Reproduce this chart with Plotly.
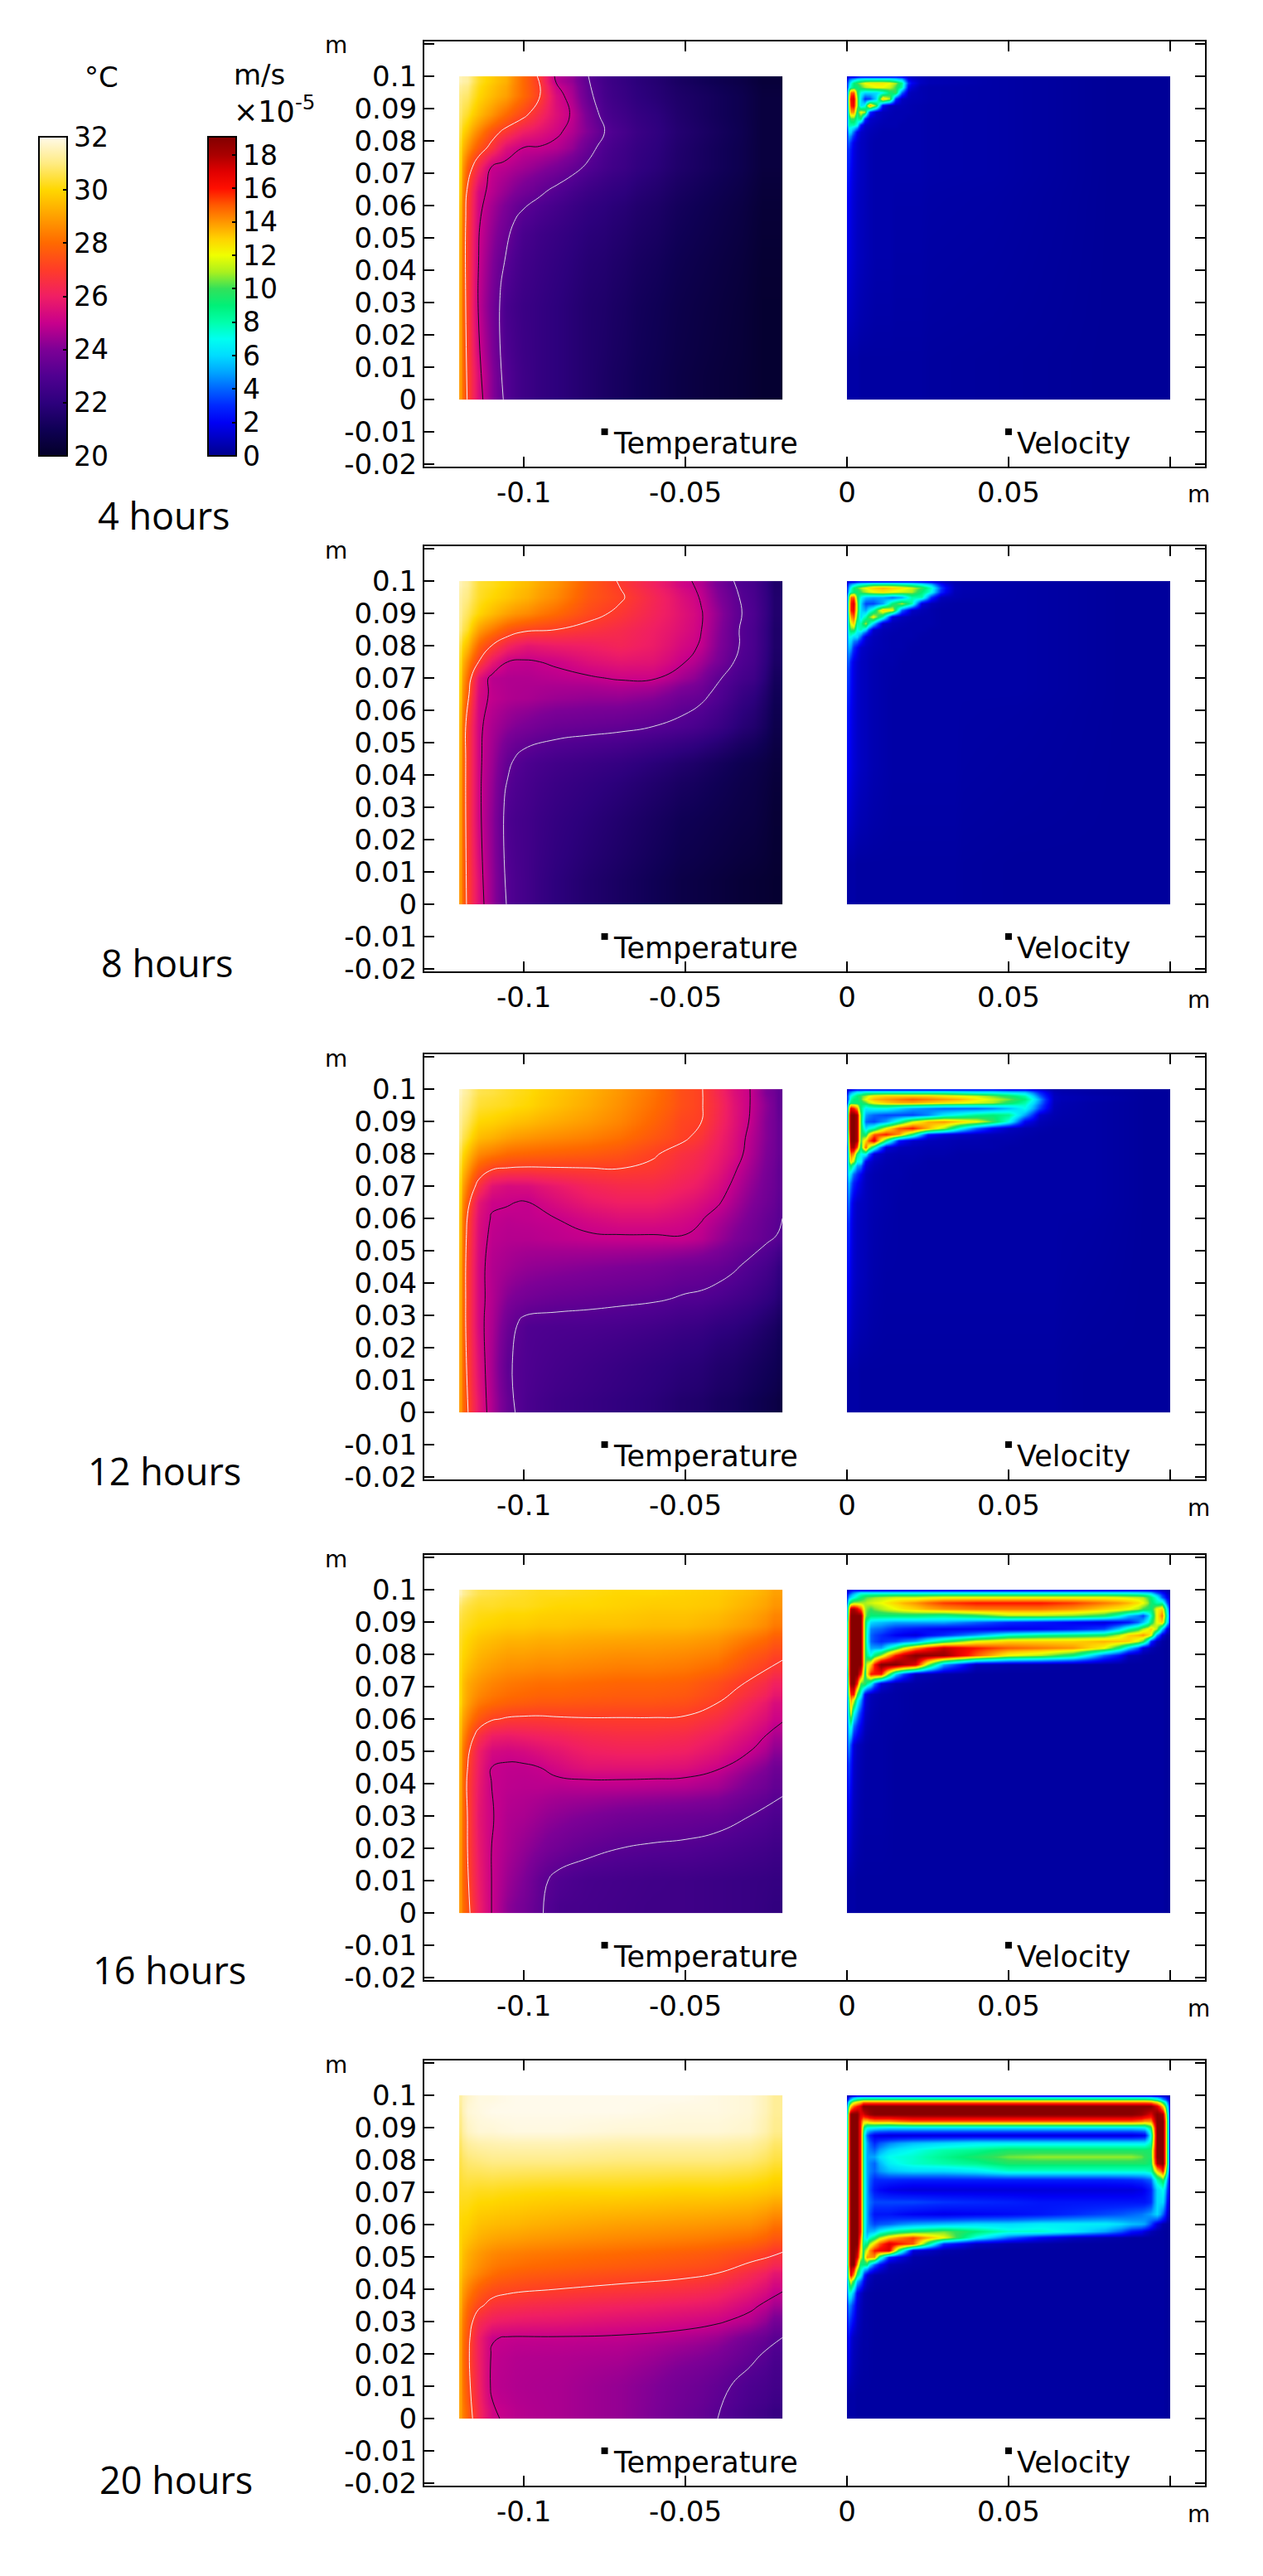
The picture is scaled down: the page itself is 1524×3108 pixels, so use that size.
import plotly.graph_objects as go

# the page keeps its default 8px body margin, so the figure is 8px smaller and all pixels are shifted
PAGE_MARGIN = 8
WIDTH = 1524 - PAGE_MARGIN
HEIGHT = 3108 - PAGE_MARGIN

# temperature panels, degC, rows run bottom to top
t4_x = [-.12, -.118, -.114, -.11, -.106, -.1, -.095, -.09, -.085, -.08, -.075, -.07, -.06, -.045, -.02]
t4_y = [0, .03, .055, .065, .072, .078, .083, .088, .094, .1]
t4_z = [
    [28.9, 27.2, 25.4, 24.2, 23.1, 22.5, 22.2, 22, 21.8, 21.6, 21.4, 21.2, 20.9, 20.5, 20.2],
    [29, 27, 24.9, 23.9, 22.8, 22.4, 22.2, 22, 21.8, 21.6, 21.5, 21.3, 21, 20.6, 20.2],
    [29.3, 27, 25.1, 24.3, 23.6, 22.8, 22.5, 22.3, 22.1, 21.9, 21.8, 21.6, 21.3, 20.8, 20.3],
    [29.8, 27.2, 25.3, 24.8, 24.3, 23.8, 23.4, 23.05, 22.7, 22.4, 22.2, 22, 21.6, 21, 20.4],
    [30, 27.8, 26.3, 25, 24.8, 24.5, 24.2, 23.9, 23.5, 23.05, 22.7, 22.4, 21.9, 21.2, 20.5],
    [30.2, 28.8, 27.6, 26.7, 25.5, 25, 24.95, 24.75, 24.3, 23.5, 22.9, 22.5, 22, 21.2, 20.5],
    [30.5, 29.6, 28.5, 27.5, 26.8, 26, 25.6, 25.2, 24.7, 24, 23.2, 22.7, 22.1, 21.3, 20.5],
    [30.8, 30.3, 29.5, 28.8, 28, 27.2, 26.3, 25.5, 24.9, 23.8, 22.9, 22.5, 22, 21.2, 20.5],
    [31, 30.8, 30, 29.5, 29, 28, 27, 25.4, 24.6, 23.4, 22.7, 22.3, 21.8, 21.2, 20.5],
    [31.5, 31.3, 30.3, 29.8, 29.3, 28, 26.8, 24.8, 24.3, 23.2, 22.6, 22.2, 21.7, 21, 20.4],
]

t8_x = [-.12, -.118, -.114, -.11, -.105, -.1, -.09, -.08, -.07, -.06, -.05, -.045, -.04, -.035, -.03, -.02]
t8_y = [0, .03, .045, .055, .065, .07, .075, .08, .085, .09, .095, .1]
t8_z = [
    [28.8, 27.1, 25.5, 24.3, 23.1, 22.6, 22, 21.6, 21.3, 21, 20.7, 20.6, 20.5, 20.4, 20.3, 20.2],
    [29, 27, 25.2, 24.2, 22.9, 22.6, 22.2, 21.9, 21.6, 21.3, 21, 20.9, 20.8, 20.7, 20.6, 20.3],
    [29.2, 27, 25.2, 24.4, 23.4, 22.9, 22.6, 22.4, 22.2, 21.9, 21.6, 21.4, 21.2, 21, 20.8, 20.5],
    [29.4, 27, 25.2, 24.6, 24.2, 23.9, 23.6, 23.5, 23.4, 23.2, 22.95, 22.7, 22.4, 22, 21.6, 20.8],
    [29.8, 27.6, 25.3, 24.9, 24.7, 24.6, 24.4, 24.3, 24.3, 24.1, 23.6, 23.4, 23, 22.5, 22, 21],
    [30, 28, 25.6, 24.8, 24.7, 24.7, 24.8, 24.9, 25.1, 25.1, 24.5, 24, 23.3, 22.9, 22.5, 21.2],
    [30.2, 28.6, 27, 25.8, 25, 24.9, 25.1, 25.5, 25.7, 25.6, 25, 24.5, 23.9, 23.2, 22.7, 21.4],
    [30.5, 29.5, 27.9, 27, 26.2, 25.7, 25.9, 26, 26.2, 25.9, 25.3, 24.9, 24.1, 23.4, 22.8, 21.5],
    [31, 30.3, 29, 28.3, 27.6, 27.2, 27, 26.7, 26.4, 26, 25.5, 25, 24.2, 23.4, 22.8, 21.5],
    [31.2, 30.7, 30, 29.5, 29, 28.6, 28, 27.3, 26.8, 26.2, 25.6, 25.05, 24.3, 23.5, 22.9, 21.6],
    [31.3, 31, 30.3, 30, 29.7, 29.3, 28.6, 27.6, 27.1, 26.3, 25.5, 24.9, 24.1, 23.4, 22.8, 21.6],
    [31.5, 31.2, 30.4, 30.2, 29.9, 29.5, 28.8, 27.7, 26.9, 26.1, 25.2, 24.7, 23.9, 23.2, 22.7, 21.5],
]

t12_x = [-.12, -.118, -.114, -.11, -.105, -.1, -.09, -.08, -.07, -.06, -.05, -.045, -.04, -.035, -.03, -.025, -.02]
t12_y = [0, .015, .028, .035, .045, .055, .06, .065, .07, .075, .08, .085, .09, .095, .1]
t12_z = [
    [28.9, 27.3, 25.7, 24.6, 23.5, 22.85, 22.5, 22.3, 22.1, 21.9, 21.6, 21.5, 21.3, 21.2, 21, 20.8, 20.6],
    [29, 27.1, 25.5, 24.5, 23.3, 22.95, 22.7, 22.5, 22.3, 22.1, 21.9, 21.8, 21.6, 21.5, 21.3, 21.1, 20.9],
    [29.1, 27, 25.3, 24.6, 23.6, 23, 22.9, 22.85, 22.75, 22.6, 22.4, 22.3, 22.1, 22, 21.8, 21.5, 21.2],
    [29.2, 27, 25.3, 24.7, 24.1, 23.8, 23.6, 23.5, 23.4, 23.3, 23.1, 23.05, 22.9, 22.7, 22.5, 22.2, 21.8],
    [29.3, 27, 25.3, 24.7, 24.5, 24.3, 24.2, 24.1, 24, 23.9, 23.7, 23.6, 23.5, 23.3, 23, 22.7, 22.2],
    [29.5, 27.1, 25.4, 24.85, 24.75, 24.75, 24.85, 24.95, 25, 25, 25, 24.8, 24.4, 24, 23.7, 23.4, 23.1],
    [29.6, 27.2, 25.5, 24.95, 24.85, 24.9, 25, 25.3, 25.5, 25.5, 25.3, 25.05, 24.7, 24.3, 23.9, 23.5, 23.2],
    [29.8, 27.6, 25.7, 25.1, 25.05, 24.95, 25.4, 25.8, 26, 26, 25.7, 25.4, 25.1, 24.6, 24.1, 23.7, 23.3],
    [30, 28.2, 26.6, 25.6, 25.35, 25.4, 25.8, 26.2, 26.4, 26.4, 26.1, 25.8, 25.4, 24.85, 24.3, 23.8, 23.4],
    [30.3, 28.9, 27.6, 27, 26.85, 26.8, 26.85, 26.9, 26.95, 26.8, 26.4, 26.1, 25.7, 25.1, 24.5, 23.9, 23.4],
    [30.6, 29.6, 28.6, 28.3, 28, 27.9, 27.8, 27.7, 27.5, 27.1, 26.6, 26.3, 25.9, 25.4, 24.7, 24, 23.5],
    [31, 30.3, 29.5, 29.3, 29, 28.8, 28.6, 28.4, 28.1, 27.6, 27.1, 26.7, 26.1, 25.5, 24.8, 24.1, 23.5],
    [31.2, 30.7, 30, 29.9, 29.7, 29.5, 29.2, 28.9, 28.5, 27.9, 27.2, 27, 26.3, 25.6, 24.95, 24.1, 23.5],
    [31.4, 31, 30.4, 30.3, 30.2, 30, 29.6, 29.2, 28.7, 28.1, 27.4, 27.05, 26.4, 25.6, 25, 24.2, 23.4],
    [31.6, 31.2, 30.6, 30.5, 30.3, 30.1, 29.7, 29.3, 28.8, 28.2, 27.4, 27.05, 26.3, 25.5, 25, 24, 23.4],
]

t16_x = [-.12, -.118, -.114, -.11, -.105, -.1, -.095, -.09, -.08, -.07, -.06, -.05, -.04, -.03, -.02]
t16_y = [0, .01, .02, .03, .04, .045, .05, .055, .06, .065, .07, .08, .09, .095, .1]
t16_z = [
    [28.8, 27.5, 26, 25, 24.2, 23.8, 23.3, 22.8, 22.7, 22.6, 22.5, 22.5, 22.4, 22.3, 22.1],
    [28.8, 27.3, 25.9, 25, 24.4, 24, 23.4, 23, 22.75, 22.65, 22.55, 22.5, 22.4, 22.3, 22.2],
    [28.9, 27.2, 25.8, 25, 24.6, 24.3, 24, 23.7, 23.4, 23.2, 23.1, 23.05, 22.9, 22.7, 22.5],
    [29, 27.2, 25.7, 25.05, 24.7, 24.6, 24.4, 24.2, 24, 23.8, 23.7, 23.6, 23.5, 23.2, 22.9],
    [29.1, 27.1, 25.8, 25, 24.85, 24.8, 24.8, 24.75, 24.8, 24.8, 24.75, 24.7, 24.5, 23.9, 23.4],
    [29.2, 27.2, 25.9, 25, 24.9, 24.9, 25, 25.3, 25.6, 25.6, 25.6, 25.5, 25.1, 24.4, 23.7],
    [29.3, 27.4, 26, 25.3, 25.2, 25.3, 25.5, 25.7, 26, 26.1, 26.1, 26, 25.6, 25, 24.2],
    [29.5, 27.9, 26.6, 26, 25.9, 26, 26.1, 26.2, 26.4, 26.5, 26.5, 26.4, 26, 25.4, 24.6],
    [29.7, 28.5, 27.6, 27.1, 26.9, 26.85, 26.85, 26.9, 26.95, 26.95, 26.95, 26.9, 26.5, 25.8, 25.1],
    [30, 29, 28.3, 28, 27.8, 27.7, 27.6, 27.6, 27.55, 27.5, 27.5, 27.4, 27, 26.2, 25.4],
    [30, 29.2, 28.8, 28.5, 28.3, 28.2, 28.1, 28.1, 28, 27.9, 27.9, 27.8, 27.4, 26.8, 26.1],
    [30.2, 29.8, 29.4, 29.2, 29, 29, 28.9, 28.9, 28.8, 28.7, 28.7, 28.6, 28.4, 27.7, 27.2],
    [30.4, 30.2, 30, 29.9, 29.8, 29.8, 29.7, 29.7, 29.6, 29.6, 29.5, 29.5, 29.3, 28.9, 28.3],
    [30.8, 30.5, 30.3, 30.3, 30.2, 30.2, 30.1, 30, 30, 29.9, 29.8, 29.8, 29.7, 29.3, 28.8],
    [31.5, 31, 30.6, 30.5, 30.4, 30.3, 30.2, 30.2, 30.1, 30, 30, 29.9, 29.8, 29.5, 29],
]

t20_x = [-.12, -.118, -.114, -.11, -.105, -.09, -.07, -.05, -.04, -.03, -.02]
t20_y = [0, .01, .02, .025, .03, .035, .04, .045, .05, .06, .07, .08, .09, .095, .1]
t20_z = [
    [29, 27.8, 26.3, 25.2, 24.8, 24.6, 24.3, 23.7, 23.2, 22.7, 22.3],
    [29, 27.5, 26.1, 24.9, 24.7, 24.6, 24.3, 23.8, 23.4, 22.9, 22.6],
    [29, 27.4, 26, 24.95, 24.75, 24.7, 24.6, 24.2, 23.9, 23.4, 22.85],
    [29, 27.5, 26, 25.05, 24.95, 24.95, 24.9, 24.7, 24.4, 23.8, 23.2],
    [29.1, 27.7, 26.4, 26, 25.8, 25.7, 25.5, 25.3, 25.1, 24.7, 23.8],
    [29.3, 28, 27.2, 26.7, 26.5, 26.3, 26.1, 25.9, 25.7, 25.2, 24.5],
    [29.5, 28.5, 27.8, 27.4, 27.2, 27, 26.8, 26.6, 26.3, 25.8, 25.1],
    [29.7, 29, 28.5, 28.1, 27.8, 27.6, 27.4, 27.2, 27, 26.4, 25.7],
    [29.9, 29.3, 28.9, 28.6, 28.4, 28.2, 28, 27.8, 27.6, 27.3, 26.8],
    [30, 29.9, 29.6, 29.5, 29.4, 29.2, 29, 28.9, 28.8, 28.7, 28.2],
    [30.3, 30.3, 30.2, 30.2, 30.1, 30, 30, 29.9, 29.9, 29.8, 29.6],
    [30.6, 30.9, 31, 31.1, 31.1, 31.1, 31, 31, 31, 30.9, 30.5],
    [31, 31.6, 31.8, 31.8, 31.9, 31.9, 31.8, 31.8, 31.8, 31.7, 31.1],
    [31.2, 31.8, 31.9, 32, 32, 32, 32, 31.9, 31.9, 31.8, 31.2],
    [31.3, 31.7, 31.9, 31.9, 32, 32, 32, 32, 31.9, 31.8, 31.2],
]

# velocity panels, 1e-5 m/s, rows run bottom to top
v4_x = [0, .0005, .0012, .002, .003, .004, .0055, .007, .009, .011, .013, .015, .017, .019, .021, .03, .1]
v4_y = [0, .05, .075, .08, .083, .085, .087, .089, .091, .093, .095, .097, .098, .099, .1]
v4_z = [
    [.5, .5, .5, .5, .5, .4, .4, .4, .4, .4, .4, .4, .4, .4, .4, .3, .2],
    [1.5, 1.6, 1.4, 1.2, 1, .9, .8, .7, .6, .6, .6, .5, .5, .5, .5, .4, .2],
    [2.5, 2.6, 2, 1.5, 1.2, 1, .9, .7, .6, .6, .6, .6, .6, .6, .6, .5, .2],
    [3, 4, 3, 1.8, 1.3, 1, .9, .7, .6, .6, .6, .6, .6, .6, .6, .5, .2],
    [3, 6, 6, 4, 2, 1.2, 1, .8, .7, .6, .6, .6, .6, .6, .6, .5, .2],
    [4, 8, 8, 8, 7, 2.5, 1.2, 1, .8, .7, .7, .7, .6, .6, .6, .5, .2],
    [4, 8, 10, 10, 8, 9, 3, 1.2, 1, .8, .7, .7, .7, .6, .6, .5, .2],
    [4, 10, 14, 14, 9, 12, 11, 3, 1.2, .9, .8, .7, .7, .7, .6, .5, .2],
    [4, 11, 16, 16.5, 11, 6, 7, 14, 10, 2, 1, .8, .8, .7, .6, .5, .2],
    [4, 12, 16.5, 17, 11, 6, 3, 3.5, 6, 13, 11, 3, 1, .8, .7, .5, .2],
    [4, 10, 15, 15, 10, 7, 6, 6, 6, 7, 9, 10, 4, 1, .7, .5, .2],
    [3, 6, 8, 9, 9, 10, 11, 11.5, 12, 12, 11.5, 10, 8, 2, .7, .5, .2],
    [3, 5, 7, 9, 10, 11, 12, 12.5, 12.5, 12.5, 12, 11, 8.5, 3, 1, .5, .2],
    [2, 4, 5, 6, 7, 7.5, 8, 8, 8, 8, 8, 7, 6, 2, 1, .5, .2],
    [1, 2, 2, 2, 2.5, 3, 3, 3, 3, 3, 3, 3, 2.5, 1.2, .7, .4, .2],
]

v8_x = [0, .0005, .0012, .002, .003, .004, .0055, .008, .011, .014, .017, .02, .023, .026, .029, .032, .04, .1]
v8_y = [0, .05, .07, .075, .08, .083, .085, .087, .089, .091, .093, .095, .097, .098, .099, .1]
v8_z = [
    [.5, .5, .5, .5, .4, .4, .4, .4, .4, .4, .4, .4, .4, .4, .4, .4, .3, .3],
    [2, 2, 1.7, 1.4, 1.2, 1, .9, .7, .6, .5, .5, .5, .5, .5, .5, .5, .4, .3],
    [3, 3, 2.2, 1.6, 1.2, 1, .9, .7, .6, .5, .5, .5, .5, .5, .5, .5, .5, .3],
    [3.5, 4, 2.6, 1.7, 1.3, 1, .9, .7, .6, .6, .5, .5, .5, .5, .5, .5, .5, .3],
    [4, 5.5, 5, 3, 2, 1.2, 1, .8, .7, .6, .6, .5, .5, .5, .5, .5, .5, .3],
    [4, 7, 7, 6, 6, 4, 1.5, .9, .7, .6, .6, .6, .5, .5, .5, .5, .5, .3],
    [4, 8, 10, 10, 7, 8, 6, 1.2, .8, .7, .6, .6, .6, .5, .5, .5, .5, .3],
    [4, 9, 12, 13, 8, 8, 11, 6, 1.2, .8, .7, .6, .6, .6, .5, .5, .5, .3],
    [4, 10, 14, 15, 10, 6, 8, 12, 8, 1.5, .9, .7, .6, .6, .5, .5, .5, .3],
    [4, 11, 16, 16.5, 11, 6, 5, 8, 13, 12, 4, 1.1, .8, .6, .5, .5, .5, .3],
    [4, 11, 16, 17, 11, 6, 3.5, 3.5, 5, 9, 11, 8, 1.5, .8, .6, .5, .5, .3],
    [4, 10, 15, 15, 10, 7, 5.5, 5, 5, 4, 5, 8, 8, 3, .9, .7, .5, .3],
    [3, 6, 8, 9, 9, 10, 11, 12, 12.5, 12, 11.5, 11, 9, 7, 3, .8, .5, .3],
    [3, 5, 7, 9, 10, 11, 12, 13, 13.5, 13, 12.5, 11.5, 10, 7.5, 3.5, .9, .5, .3],
    [2, 4, 5, 6, 7, 7.5, 8, 9, 9, 9, 8.5, 8, 7, 5.5, 2.5, .8, .5, .3],
    [1, 2, 2, 2, 2.5, 3, 3, 3, 3, 3, 3, 3, 2.5, 2, 1.2, .6, .5, .3],
]

v12_x = [0, .0005, .0012, .002, .003, .004, .0055, .008, .012, .016, .02, .025, .03, .035, .04, .045, .05, .055, .06, .063, .07, .1]
v12_y = [0, .05, .067, .075, .078, .08, .082, .084, .086, .088, .09, .092, .094, .096, .097, .098, .099, .1]
v12_z = [
    [.5, .5, .5, .5, .5, .4, .4, .4, .4, .4, .4, .4, .4, .4, .4, .4, .4, .4, .4, .4, .3, .3],
    [2, 2.2, 1.6, 1.2, 1, .9, .8, .6, .5, .5, .5, .5, .5, .5, .5, .5, .5, .5, .5, .5, .4, .3],
    [3, 4.5, 2.5, 1.5, 1.1, 1, .9, .7, .6, .5, .5, .5, .5, .5, .5, .5, .5, .5, .5, .5, .5, .3],
    [4, 7, 6, 4, 3, 2, 1, .7, .6, .6, .5, .5, .5, .5, .5, .5, .5, .5, .5, .5, .5, .3],
    [4, 9, 13, 11, 7, 7, 2, 1, .7, .6, .6, .5, .5, .5, .5, .5, .5, .5, .5, .5, .5, .3],
    [4, 10, 15, 14, 9, 7, 7, 1.5, .8, .7, .7, .6, .6, .5, .5, .5, .5, .5, .5, .5, .5, .3],
    [4, 11, 18, 18, 15, 9, 15, 8, 1.5, .9, .8, .7, .7, .6, .6, .6, .5, .5, .5, .5, .5, .3],
    [5, 12, 19, 19, 18, 10, 13, 17, 9, 2.5, 1.2, .9, .8, .7, .7, .6, .6, .5, .5, .5, .5, .3],
    [5, 13, 19, 19, 18, 10, 9, 15, 16, 14, 9, 2.5, 1.5, 1.1, .9, .8, .7, .6, .5, .5, .5, .3],
    [5, 14, 19, 19, 18, 10, 6, 8, 12, 15, 16, 13.5, 11, 7, 4, 2, 1, .7, .6, .5, .5, .3],
    [5, 14, 19, 19, 18, 10, 4, 3.5, 5, 8, 11.5, 13.5, 14, 13, 12, 10, 7, 2, .8, .6, .5, .3],
    [5, 14, 19, 19, 18, 10, 5, 4, 3.5, 3.5, 3.5, 4.5, 6.5, 7.5, 8.5, 9, 8.5, 5, 1.2, .7, .5, .3],
    [5, 12, 17, 16, 14, 9, 6.5, 7, 7, 6, 5, 4.5, 4, 4, 4, 4.5, 5.5, 7, 3.5, .8, .5, .3],
    [3, 7, 9, 9, 9, 9, 10, 12, 13, 13.5, 13.5, 13, 12.5, 12, 11.5, 11, 9.5, 8, 4.5, .9, .5, .3],
    [3, 5, 8, 9, 9, 10, 12, 13.5, 14, 14.5, 15, 14.5, 14, 13.5, 12.5, 11.5, 10.5, 9, 5, 1, .6, .3],
    [3, 5, 7, 8, 9, 10, 11, 12.5, 13, 13, 13, 13, 12.5, 12, 11.5, 10.5, 9.5, 8, 4, 1, .6, .3],
    [2, 4, 5, 6, 7, 7, 8, 8, 8, 8, 8, 8, 8, 7.5, 7, 7, 6.5, 6, 3, .9, .5, .3],
    [1, 2, 2, 2.5, 3, 3, 3, 3, 3, 3, 3, 3, 3, 3, 3, 3, 2.5, 2.5, 1.5, .6, .5, .3],
]

v16_x = [0, .0005, .0012, .002, .003, .004, .0055, .007, .01, .015, .02, .03, .04, .05, .06, .07, .08, .088, .092, .094, .096, .0976, .099, .1]
v16_y = [0, .04, .0525, .0636, .068, .071, .074, .077, .08, .082, .084, .086, .088, .09, .092, .094, .096, .098, .099, .1]
v16_z = [
    [.5, .5, .5, .5, .4, .4, .4, .4, .4, .4, .4, .4, .4, .4, .4, .4, .4, .4, .4, .4, .4, .4, .3, .3],
    [1.5, 2.2, 1.6, 1, .8, .6, .5, .5, .5, .4, .4, .4, .4, .4, .4, .4, .4, .4, .4, .4, .4, .4, .3, .3],
    [3, 5, 3.5, 1.5, 1, .8, .6, .5, .5, .4, .4, .4, .4, .4, .4, .4, .4, .4, .4, .4, .4, .4, .3, .3],
    [4, 8, 12, 7, 5, 3, 1.2, .7, .5, .5, .4, .4, .4, .4, .4, .4, .4, .4, .4, .4, .4, .4, .3, .3],
    [5, 11, 16, 16, 10, 7, 2, .9, .6, .5, .4, .4, .4, .4, .4, .4, .4, .4, .4, .4, .4, .4, .3, .3],
    [6, 13, 19, 19, 16, 10, 10, 7, 1.5, .6, .5, .4, .4, .4, .4, .4, .4, .4, .4, .4, .4, .4, .3, .3],
    [6, 14, 19, 19, 19, 16, 9, 16, 16, 6, .9, .5, .4, .4, .4, .4, .4, .4, .4, .4, .4, .4, .3, .3],
    [7, 14, 19, 19, 19, 19, 10, 13, 19, 19, 17, 5, .9, .6, .5, .4, .4, .4, .4, .4, .4, .4, .3, .3],
    [7, 14, 19, 19, 19, 19, 10, 7, 11, 16, 19, 18.5, 15, 12, 11, 9, 4, .8, .5, .4, .4, .4, .3, .3],
    [7, 14, 19, 19, 19, 19, 10, 5, 5, 9, 14, 17.5, 16, 15, 14.5, 14, 12, 6, 1.5, .8, .5, .4, .3, .3],
    [7, 14, 19, 19, 19, 19, 10, 4, 3, 3.5, 5, 9, 12, 13, 13, 13, 13.5, 13, 10, 3, 1, .5, .3, .3],
    [7, 14, 19, 19, 19, 19, 10, 4, 3, 2, 1.5, 3, 5, 7.5, 8.5, 9, 9.5, 13, 14, 12, 5, 1.5, .5, .3],
    [7, 14, 19, 19, 19, 19, 10, 4.5, 4, 3, 2.5, 2, 2, 1.8, 2, 2.5, 3.5, 8, 11, 13, 11, 6, 2, .5],
    [7, 14, 19, 19, 19, 19, 10, 6, 5.5, 5, 5, 5, 4, 3, 2.5, 2, 1.5, 2.5, 5.5, 9, 12, 13, 7, 2],
    [6, 13, 19, 19, 19, 19, 11, 9, 9, 9, 9, 8.5, 9.5, 11, 11, 10.5, 9.5, 5.5, 3.5, 7.5, 12, 14.5, 8, 2],
    [6, 12, 18, 18, 17, 15, 11, 10, 11, 12, 13, 14, 14.5, 14.5, 14.5, 14, 13, 12, 10, 9, 12, 13, 7, 1.5],
    [4, 8, 10, 11, 11, 11, 11, 11.5, 12, 13, 14, 15.5, 16, 16, 16, 15.5, 14.5, 13.5, 12, 9.5, 8, 8, 4, 1.2],
    [3, 5, 6, 7, 8, 9, 10, 10.5, 11, 11.5, 11.5, 12, 12, 12, 12, 12, 12, 11.5, 11, 9, 7, 4, 2, .8],
    [2, 3, 4, 5, 6, 7, 7, 7, 7, 7, 7, 7, 7, 7, 7, 7, 7, 7, 6.5, 6, 4, 2.5, 1.2, .6],
    [1, 1.5, 2, 2.5, 2.5, 2.5, 2.5, 2.5, 2.5, 2.5, 2.5, 2.5, 2.5, 2.5, 2.5, 2.5, 2.5, 2.5, 2.5, 2, 1.5, 1, .7, .4],
]

v20_x = [0, .0005, .0012, .002, .003, .004, .005, .006, .008, .012, .02, .03, .04, .05, .06, .07, .08, .09, .092, .094, .096, .098, .099, .1]
v20_y = [0, .03, .04, .045, .048, .05, .052, .054, .056, .058, .06, .063, .067, .071, .074, .077, .079, .081, .083, .085, .088, .09, .092, .094, .097, .099, .1]
v20_z = [
    [.5, .5, .5, .5, .4, .4, .4, .4, .4, .4, .4, .4, .4, .4, .4, .4, .4, .4, .4, .4, .4, .4, .3, .3],
    [1.5, 2.5, 1.5, 1, .8, .6, .5, .5, .4, .4, .4, .4, .4, .4, .4, .4, .4, .4, .4, .4, .4, .4, .3, .3],
    [4, 7, 7, 5, 2, 1.2, .7, .5, .4, .4, .4, .4, .4, .4, .4, .4, .4, .4, .4, .4, .4, .4, .3, .3],
    [6, 12, 17, 14, 9, 7, 4, 1.5, .6, .5, .4, .4, .4, .4, .4, .4, .4, .4, .4, .4, .4, .4, .3, .3],
    [7, 14, 19, 19, 14, 9, 9, 9, 4, .8, .5, .4, .4, .4, .4, .4, .4, .4, .4, .4, .4, .4, .3, .3],
    [7, 14, 19, 19, 17, 12, 9, 14, 14, 3, .6, .4, .4, .4, .4, .4, .4, .4, .4, .4, .4, .4, .3, .3],
    [7, 14, 19, 19, 18, 13, 9, 12, 16, 17, 1.5, .6, .4, .4, .4, .4, .4, .4, .4, .4, .4, .4, .3, .3],
    [7, 14, 19, 19, 19, 14, 8, 9, 13, 17, 15, 3, 1, .6, .5, .4, .4, .4, .4, .4, .4, .4, .3, .3],
    [7, 14, 19, 19, 19, 15, 8, 6, 9, 13, 15.5, 12, 7, 4, 2, 1, .6, .4, .4, .4, .4, .4, .3, .3],
    [7, 14, 19, 19, 19, 16, 9, 5, 5.5, 8, 9.5, 10.5, 9, 7.5, 7.5, 6.5, 5, 2.5, 1.5, .8, .5, .4, .3, .3],
    [7, 14, 19, 19, 19, 16, 9, 5, 3.5, 4, 5, 5.5, 6, 6, 6.5, 6.5, 6.5, 5.5, 5, 3.5, 1.5, .6, .4, .3],
    [7, 14, 19, 19, 19, 16, 9, 5, 2.5, 2.5, 2, 1.8, 2, 2.2, 2.5, 3, 3.5, 4, 4.5, 5, 6, 4, 1.5, .5],
    [7, 14, 19, 19, 19, 16, 9, 5, 3.5, 3.5, 3.5, 3.2, 3, 2.8, 2.5, 2.5, 2.5, 2.5, 2.5, 3, 6, 6, 2.5, .7],
    [7, 14, 19, 19, 19, 16, 9, 5, 2.5, 1.8, 1.5, 1.5, 1.5, 1.5, 1.5, 1.5, 1.5, 1.5, 2, 2.8, 6, 7, 3.5, .9],
    [7, 14, 19, 19, 19, 16, 9, 5, 3, 3, 2.8, 2.8, 2.8, 2.8, 2.8, 2.8, 2.8, 3, 3.5, 4, 8, 10, 5, 1],
    [7, 14, 19, 19, 19, 16, 9, 5, 4, 5.5, 6, 6, 6.5, 7.5, 7.5, 7.5, 7.5, 7.5, 7.5, 8, 13, 16, 8, 1.2],
    [7, 14, 19, 19, 19, 16, 9, 5, 4, 6.5, 7.5, 8, 8.5, 9.5, 9.5, 9.5, 9.5, 9.5, 9.5, 9, 18, 19, 10, 1.5],
    [7, 14, 19, 19, 19, 16, 9, 5, 5, 7, 7.5, 8.5, 9.5, 10.5, 10.8, 10.8, 10.8, 10.8, 10, 9.5, 19, 19, 10, 1.5],
    [7, 14, 19, 19, 19, 16, 9, 5, 4, 6, 7, 8, 8.5, 9.5, 9.5, 9.5, 9.5, 9.5, 9.5, 9.5, 19, 19, 10, 1.5],
    [7, 14, 19, 19, 19, 16, 9, 5, 3, 4.5, 5.5, 6, 6.5, 6.5, 6.5, 6.5, 6.5, 6.5, 6.5, 8, 19, 19, 10, 1.5],
    [7, 14, 19, 19, 19, 16, 9, 4, 1.8, 1.5, 1.5, 1.5, 1.5, 1.5, 1.5, 1.5, 1.5, 1.5, 2, 7, 19, 19, 10, 1.5],
    [7, 14, 19, 19, 19, 16, 10, 7, 6.5, 6, 6, 6, 6, 6, 6, 6, 6, 6, 6.5, 9, 19, 19, 10, 1.5],
    [7, 14, 19, 19, 19, 16, 13, 13, 14, 14, 15, 15, 15, 15, 15, 15, 15, 15, 14, 14, 19, 19, 10, 1.5],
    [7, 14, 19, 19, 19, 17, 17, 18, 19, 19, 19, 19, 19, 19, 19, 19, 19, 19, 18, 17, 19, 18, 9, 1.5],
    [5, 10, 13, 15, 16, 17, 19, 19, 19, 19, 19, 19, 19, 19, 19, 19, 19, 19, 19, 19, 17, 13, 7, 1.5],
    [2, 4, 6, 8, 9, 9.5, 10, 10, 10, 10, 10, 10, 10, 10, 10, 10, 10, 10, 10, 9.5, 8, 5, 3, 1],
    [1, 1.2, 1.5, 2, 2.5, 2.5, 2.5, 2.5, 2.5, 2.5, 2.5, 2.5, 2.5, 2.5, 2.5, 2.5, 2.5, 2.5, 2.5, 2.5, 2, 1.5, 1, .5],
]

hour_labels = ["4 hours", "8 hours", "12 hours", "16 hours", "20 hours"]
contour_levels = [23.2, 25, 27]
contour_colors = ["#d9d9e6", "#10101a", "#f5f5f5"]

x_tickvals = [-.1, -.05, 0, .05, .1]
x_ticktext = ["-0.1", "-0.05", "0", "0.05", ""]
y_tickvals = [-.02, -.01, 0, .01, .02, .03, .04, .05, .06, .07, .08, .09, .1, .11]
y_ticktext = ["-0.02", "-0.01", "0", "0.01", "0.02", "0.03", "0.04", "0.05", "0.06", "0.07", "0.08", "0.09", "0.1", ""]

probe_names = ["Temperature", "Velocity"]
probe_x = [-.075, .05]
probe_y = [-.01, -.01]

T_MIN, T_MAX = 20, 32
V_MIN, V_MAX = 0, 19.1
thermal = [
    (20, "rgb(3,0,40)"), (21, "rgb(15,0,85)"), (22, "rgb(45,0,125)"), (23, "rgb(80,0,145)"),
    (24, "rgb(125,0,150)"), (25, "rgb(200,0,140)"), (26, "rgb(240,30,100)"), (27, "rgb(255,60,40)"),
    (28, "rgb(255,105,0)"), (29, "rgb(255,160,0)"), (30, "rgb(255,215,0)"), (31, "rgb(255,235,130)"),
    (32, "rgb(255,250,235)"),
]
rainbow = [
    (0, "rgb(0,0,140)"), (2, "rgb(0,0,245)"), (3, "rgb(0,40,255)"), (4, "rgb(0,100,255)"),
    (5, "rgb(0,165,255)"), (6, "rgb(0,220,255)"), (7, "rgb(0,255,240)"), (8, "rgb(0,255,170)"),
    (9, "rgb(0,240,120)"), (10, "rgb(50,225,90)"), (11, "rgb(170,240,30)"), (12, "rgb(240,255,0)"),
    (13, "rgb(255,210,0)"), (14, "rgb(255,150,0)"), (15, "rgb(255,90,0)"), (16, "rgb(255,15,0)"),
    (17, "rgb(225,0,0)"), (18, "rgb(170,0,0)"), (19.1, "rgb(130,0,0)"),
]

FONT = "DejaVu Sans"
frame_tops = [50, 659, 1272, 1876, 2486]
FRAME_H = 513
FRAME_L, FRAME_R = 512, 1454
hour_xy = [(198, 622), (202, 1161), (198, 1774), (204, 2376), (212, 2991)]


def px(x):
    return (x - PAGE_MARGIN) / WIDTH


def py(y):
    return 1 - (y - PAGE_MARGIN) / HEIGHT


def scale(stops, low, high):
    return [[(v - low) / (high - low), c] for v, c in stops]


def edges(centres):
    mids = [(a + b) / 2 for a, b in zip(centres, centres[1:])]
    return [centres[0]] + mids + [centres[-1]]


def colorbar(left, tickvals):
    return dict(
        x=px(left), xanchor="left", y=py(165), yanchor="top",
        lenmode="pixels", len=385, thicknessmode="pixels", thickness=34,
        xpad=0, ypad=0, outlinecolor="black", outlinewidth=2, borderwidth=0,
        tickvals=tickvals, ticks="inside", ticklen=6, tickwidth=2, tickcolor="black",
        tickfont=dict(family=FONT, size=33, color="black"),
    )


def text(x, y, s, size, family=FONT, anchor="center"):
    return dict(
        x=px(x), y=py(y), xref="paper", yref="paper", text=s, showarrow=False,
        xanchor=anchor, yanchor="middle", font=dict(family=family, size=size, color="black"),
    )


def plot():
    temps = [(t4_x, t4_y, t4_z), (t8_x, t8_y, t8_z), (t12_x, t12_y, t12_z), (t16_x, t16_y, t16_z), (t20_x, t20_y, t20_z)]
    vels = [(v4_x, v4_y, v4_z), (v8_x, v8_y, v8_z), (v12_x, v12_y, v12_z), (v16_x, v16_y, v16_z), (v20_x, v20_y, v20_z)]

    fig = go.Figure()
    layout = {}
    notes = []
    for i, top in enumerate(frame_tops):
        tag = "" if i == 0 else str(i + 1)
        xref, yref = "x" + tag, "y" + tag
        first = i == 0

        tx, ty, tz = temps[i]
        fig.add_heatmap(
            x=edges(tx), y=edges(ty), z=tz, zsmooth="best", zmin=T_MIN, zmax=T_MAX,
            colorscale=scale(thermal, T_MIN, T_MAX), showscale=first, xaxis=xref, yaxis=yref,
            colorbar=colorbar(47, [20, 22, 24, 26, 28, 30, 32]),
        )
        for level, color in zip(contour_levels, contour_colors):
            fig.add_contour(
                x=tx, y=ty, z=tz, autocontour=False, showscale=False, hoverinfo="skip",
                contours=dict(coloring="none", start=level, end=level, size=1),
                line=dict(color=color, width=1, smoothing=1.3), xaxis=xref, yaxis=yref,
            )

        vx, vy, vz = vels[i]
        fig.add_heatmap(
            x=edges(vx), y=edges(vy), z=vz, zsmooth="best", zmin=V_MIN, zmax=V_MAX,
            colorscale=scale(rainbow, V_MIN, V_MAX), showscale=first, xaxis=xref, yaxis=yref,
            colorbar=colorbar(251, [0, 2, 4, 6, 8, 10, 12, 14, 16, 18]),
        )
        fig.add_scatter(
            x=probe_x, y=probe_y, mode="markers", showlegend=False, hoverinfo="skip",
            marker=dict(symbol="square", size=8, color="black"), xaxis=xref, yaxis=yref,
        )
        for name, nx, ny in zip(probe_names, probe_x, probe_y):
            notes.append(dict(
                x=nx, y=ny, xref=xref, yref=yref, text=name, showarrow=False, xanchor="left",
                yanchor="middle", xshift=8, yshift=-14, font=dict(family=FONT, size=35, color="black"),
            ))

        layout["xaxis" + tag] = dict(
            domain=[px(FRAME_L), px(FRAME_R)], range=[-.1308, .1108], anchor=yref,
            tickvals=x_tickvals, ticktext=x_ticktext, ticks="inside", ticklen=12, tickwidth=2,
            tickcolor="black", showline=True, linecolor="black", linewidth=2, mirror="ticks",
            showgrid=False, zeroline=False, ticklabelstandoff=0,
            tickfont=dict(family=FONT, size=34, color="black"),
        )
        layout["yaxis" + tag] = dict(
            domain=[py(top + FRAME_H), py(top)], range=[-.0208, .1108], anchor=xref,
            tickvals=y_tickvals, ticktext=y_ticktext, ticks="inside", ticklen=12, tickwidth=2,
            tickcolor="black", showline=True, linecolor="black", linewidth=2, mirror="ticks",
            showgrid=False, zeroline=False, tickfont=dict(family=FONT, size=34, color="black"),
        )
        notes.append(text(405, top + 5, "m", 28))
        notes.append(text(1446, top + 547, "m", 28))
        notes.append(text(hour_xy[i][0], hour_xy[i][1], hour_labels[i], 45, family="Open Sans"))

    notes.append(text(100, 93, "°C", 34, anchor="left"))
    notes.append(text(280, 90, "m/s", 34, anchor="left"))
    notes.append(text(280, 132, "×10<sup>-5</sup>", 35, anchor="left"))

    fig.update_layout(
        width=WIDTH, height=HEIGHT, showlegend=False, plot_bgcolor="white", paper_bgcolor="white",
        margin=dict(l=0, r=0, t=0, b=0, autoexpand=False), annotations=notes, **layout,
    )
    fig.write_html("out.html")


def main():
    plot()


if __name__ == "__main__":
    main()
